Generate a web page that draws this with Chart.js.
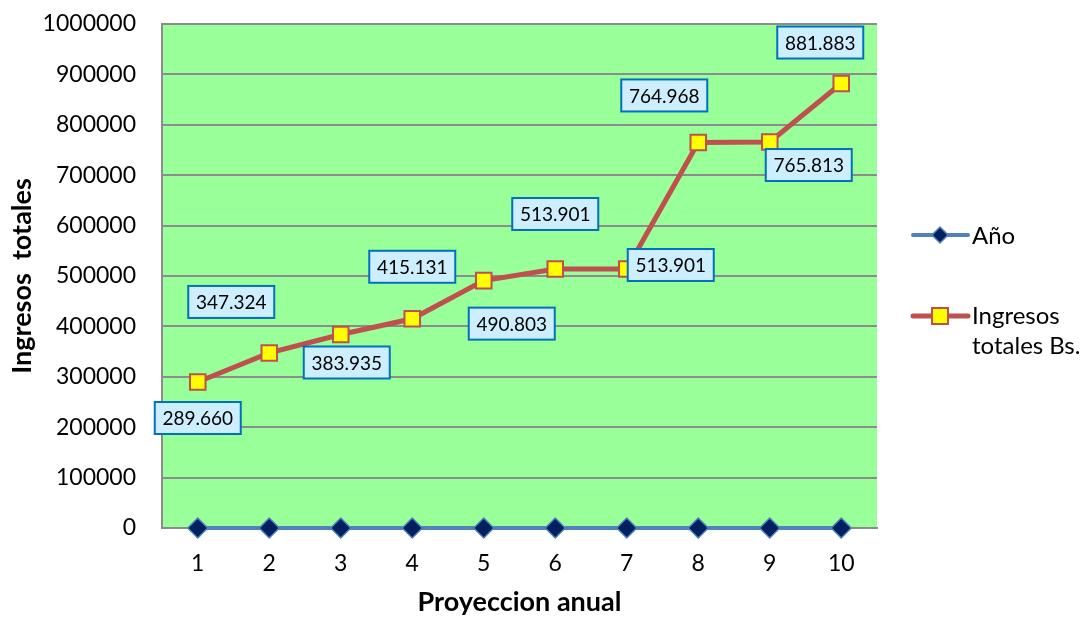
<!DOCTYPE html>
<html>
<head>
<meta charset="utf-8">
<script src="https://cdn.jsdelivr.net/npm/chart.js@4.4.1/dist/chart.umd.min.js"></script>
<style>
    html, body { margin: 0; padding: 0; background: #ffffff; }
    #wrap { width: 1086px; height: 618px; position: relative; }
</style>
</head>
<body>
<div id="wrap"><canvas id="chart" width="1086" height="618"></canvas></div>
<script>
// Chart data
const years = ['1', '2', '3', '4', '5', '6', '7', '8', '9', '10'];
const anioValues = [1, 2, 3, 4, 5, 6, 7, 8, 9, 10];
const ingresosValues = [289660, 347324, 383935, 415131, 490803, 513901, 513901, 764968, 765813, 881883];
const ingresosLabels = ['289.660', '347.324', '383.935', '415.131', '490.803', '513.901', '513.901', '764.968', '765.813', '881.883'];
const yTicks = [0, 100000, 200000, 300000, 400000, 500000, 600000, 700000, 800000, 900000, 1000000];

// where each data label box sits, relative to its point (px)
const labelOffsets = [
    [0, 36], [-38, -51], [6, 28], [0, -52], [28, 43],
    [0, -55], [44, -4], [-34, -47], [39, 23], [-21, -41]
];

const FONT = 'Lato, "Open Sans", sans-serif';

/**
 * Green plot background
 */
const plotBackground = {
    id: 'plotBackground',
    beforeDraw(chart) {
        const { ctx, chartArea: a } = chart;
        ctx.save();
        ctx.fillStyle = '#99ff99';
        ctx.fillRect(a.left, a.top, a.right - a.left, a.bottom - a.top);
        ctx.restore();
    }
};

/**
 * Boxed data labels for the income series
 */
const boxLabels = {
    id: 'boxLabels',
    afterDatasetsDraw(chart) {
        const { ctx } = chart;
        const meta = chart.getDatasetMeta(1);
        ctx.save();
        ctx.font = '19px ' + FONT;
        ctx.textAlign = 'center';
        ctx.textBaseline = 'middle';
        meta.data.forEach((pt, i) => {
            const cx = pt.x + labelOffsets[i][0];
            const cy = pt.y + labelOffsets[i][1];
            const w = 86, h = 32;
            ctx.fillStyle = '#cdeeff';
            ctx.fillRect(cx - w / 2, cy - h / 2, w, h);
            ctx.lineWidth = 2;
            ctx.strokeStyle = '#0070c0';
            ctx.strokeRect(cx - w / 2, cy - h / 2, w, h);
            ctx.fillStyle = '#000000';
            ctx.fillText(ingresosLabels[i], cx, cy + 1);
        });
        ctx.restore();
    }
};

/**
 * Legend on the right (line + marker + text)
 */
const sideLegend = {
    id: 'sideLegend',
    afterDraw(chart) {
        const { ctx } = chart;
        const x0 = 913, x1 = 968, xm = 940;
        ctx.save();

        // Año
        let y = 235;
        ctx.strokeStyle = '#4f81bd';
        ctx.lineWidth = 4;
        ctx.lineCap = 'round';
        ctx.beginPath(); ctx.moveTo(x0, y); ctx.lineTo(x1, y); ctx.stroke();
        ctx.fillStyle = '#002060';
        ctx.strokeStyle = '#4f81bd';
        ctx.lineWidth = 1.5;
        ctx.beginPath();
        ctx.moveTo(xm, y - 8); ctx.lineTo(xm + 8, y); ctx.lineTo(xm, y + 8); ctx.lineTo(xm - 8, y);
        ctx.closePath(); ctx.fill(); ctx.stroke();

        // Ingresos totales Bs.
        y = 316;
        ctx.strokeStyle = '#c0504d';
        ctx.lineWidth = 5;
        ctx.beginPath(); ctx.moveTo(x0, y); ctx.lineTo(x1, y); ctx.stroke();
        ctx.fillStyle = '#ffff00';
        ctx.lineWidth = 2;
        ctx.fillRect(xm - 8, y - 8, 16, 16);
        ctx.strokeRect(xm - 8, y - 8, 16, 16);

        ctx.fillStyle = '#000000';
        ctx.font = '24px ' + FONT;
        ctx.textAlign = 'left';
        ctx.textBaseline = 'middle';
        ctx.fillText('Año', 972, 236);
        ctx.fillText('Ingresos', 972, 316);
        ctx.fillText('totales Bs.', 972, 346);
        ctx.restore();
    }
};

const ctx = document.getElementById('chart').getContext('2d');
new Chart(ctx, {
    type: 'line',
    data: {
        labels: years,
        datasets: [
            {
                label: 'Año',
                data: anioValues,
                borderColor: '#4f81bd',
                borderWidth: 4,
                pointStyle: 'rectRot',
                pointRadius: 10,
                pointBackgroundColor: '#002060',
                pointBorderColor: '#4f81bd',
                pointBorderWidth: 1.5,
                tension: 0,
                clip: false
            },
            {
                label: 'Ingresos totales Bs.',
                data: ingresosValues,
                borderColor: '#c0504d',
                borderWidth: 5,
                pointStyle: 'rect',
                pointRadius: 11,
                pointBackgroundColor: '#ffff00',
                pointBorderColor: '#c0504d',
                pointBorderWidth: 2,
                tension: 0,
                clip: false
            }
        ]
    },
    options: {
        responsive: false,
        animation: false,
        layout: { autoPadding: false, padding: { top: 24, right: 209, left: 0, bottom: 0 } },
        plugins: {
            legend: { display: false },
            tooltip: { enabled: false }
        },
        scales: {
            x: {
                offset: true,
                grid: { display: false, drawTicks: false },
                border: { display: true, color: '#8c8c8c', width: 2 },
                ticks: {
                    color: '#000000',
                    font: { family: FONT, size: 23 },
                    padding: 22
                },
                title: {
                    display: true,
                    text: 'Proyeccion anual',
                    color: '#000000',
                    font: { family: FONT, size: 27, weight: 'bold' },
                    padding: { top: 8, bottom: 0 }
                },
                afterFit(scale) { scale.height = 90; }
            },
            y: {
                min: 0,
                max: 1000000,
                afterBuildTicks(scale) { scale.ticks = yTicks.map(v => ({ value: v })); },
                grid: { color: '#8c8c8c', lineWidth: 2, drawTicks: false },
                border: { display: true, color: '#8c8c8c', width: 2 },
                ticks: {
                    color: '#000000',
                    font: { family: FONT, size: 23 },
                    padding: 26,
                    callback: (value) => String(value)
                },
                title: {
                    display: true,
                    text: 'Ingresos  totales',
                    color: '#000000',
                    font: { family: FONT, size: 27, weight: 'bold' },
                    padding: { top: 6, bottom: 0 }
                },
                afterFit(scale) {
                    scale.width = 162;
                    // keep the top tick label from pushing the plot down
                    scale.paddingTop = 0;
                    scale.paddingBottom = 0;
                }
            }
        }
    },
    plugins: [plotBackground, boxLabels, sideLegend]
});
</script>
</body>
</html>
